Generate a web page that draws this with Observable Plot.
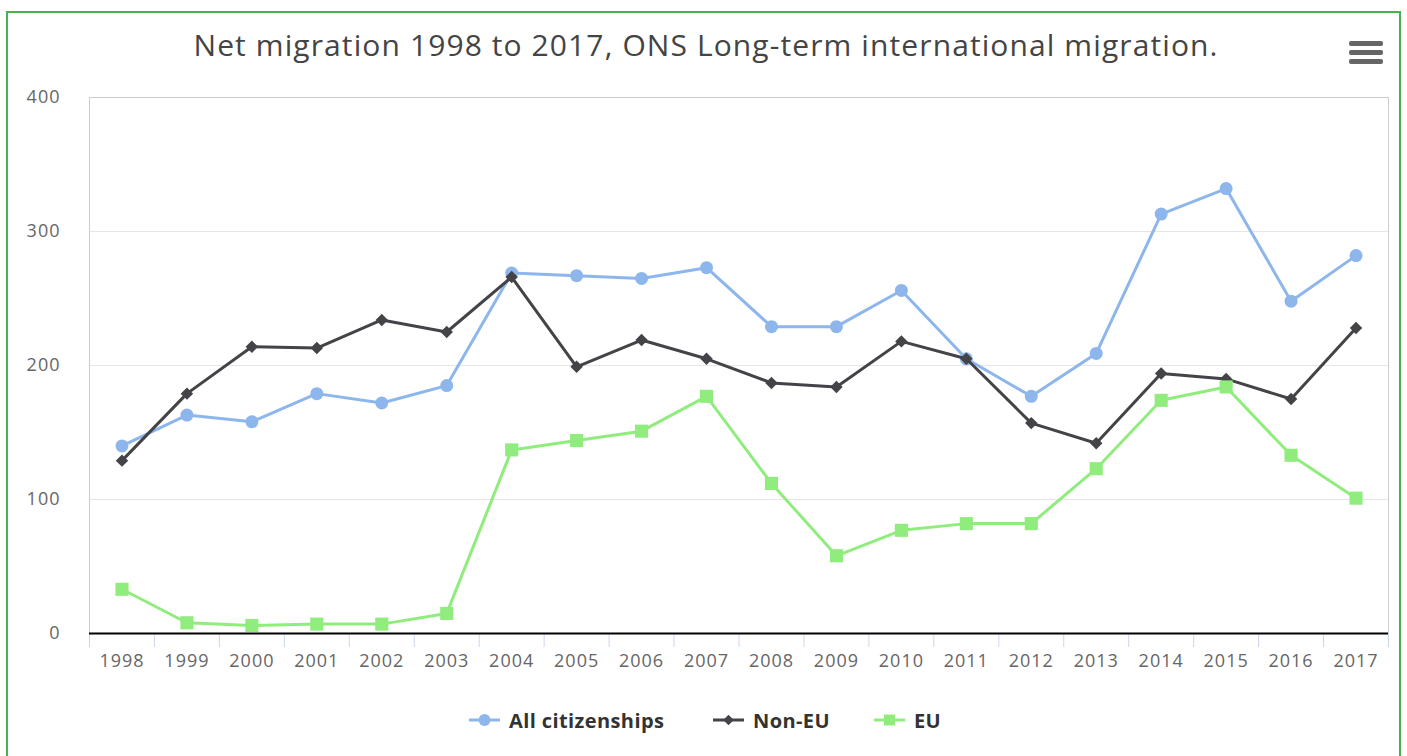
<!DOCTYPE html>
<html><head><meta charset="utf-8">
<script src="https://cdn.jsdelivr.net/npm/d3@7"></script>
<script src="https://cdn.jsdelivr.net/npm/@observablehq/plot@0.6"></script>
<style>
body{margin:0;background:#fff;font-family:"Open Sans",sans-serif;width:1407px;height:756px;overflow:hidden;position:relative;}
#frame{position:absolute;left:6px;top:11px;width:1395px;height:800px;border:2px solid #4caf50;box-sizing:border-box;}
#title{position:absolute;left:0;width:1412px;top:24px;text-align:center;font-size:30px;letter-spacing:1.1px;color:#444;white-space:nowrap;}
#menu{position:absolute;left:1349px;top:41px;}
#chart{position:absolute;left:0;top:0;}
#chart svg text{letter-spacing:1px;}
.leg{position:absolute;top:706px;height:28px;display:flex;align-items:center;font-size:20px;font-weight:bold;color:#333;letter-spacing:0.4px;}
.leg svg{margin-right:9px;}
</style></head>
<body>
<div id="frame"></div>
<div id="chart"></div>
<div id="title">Net migration 1998 to 2017, ONS Long-term international migration.</div>
<svg id="menu" width="36" height="26"><g fill="#666"><rect x="0" y="0" width="34" height="5" rx="2"/><rect x="0" y="9" width="34" height="5" rx="2"/><rect x="0" y="18" width="34" height="5" rx="2"/></g></svg>
<div id="legend"></div>
<script>
const years = [1998,1999,2000,2001,2002,2003,2004,2005,2006,2007,2008,2009,2010,2011,2012,2013,2014,2015,2016,2017];
const allCitizenships = [140,163,158,179,172,185,269,267,265,273,229,229,256,205,177,209,313,332,248,282];
const nonEU = [129,179,214,213,234,225,266,199,219,205,187,184,218,205,157,142,194,190,175,228];
const eu = [33,8,6,7,7,15,137,144,151,177,112,58,77,82,82,123,174,184,133,101];
const seriesNames = ["All citizenships","Non-EU","EU"];
const seriesColors = ["#8db6ec","#434348","#90ed7d"];
const seriesSymbols = ["circle","diamond2","square"];
const seriesR = [6.5,5.6,7.4];
const yTicks = [0,100,200,300,400];

const seriesValues = [allCitizenships, nonEU, eu];
const marks = [];
marks.push(Plot.gridY([100,200,300], {stroke:"#e6e6e6", strokeOpacity:1}));
marks.push(Plot.frame({stroke:"#cccccc", strokeOpacity:1}));
marks.push(Plot.axisY(yTicks, {tickSize:0, tickPadding:29, fontSize:18, fill:"#666", label:null}));
marks.push(Plot.axisX(d3.range(1997.5, 2018, 1), {tickSize:14, stroke:"#ccd6eb", tickFormat:()=>"", label:null}));
marks.push(Plot.axisX(years, {tickSize:0, tickPadding:21, tickFormat:d=>String(d), fontSize:18, fill:"#666", label:null}));
marks.push(Plot.ruleY([0], {stroke:"#000", strokeWidth:2}));
seriesNames.forEach((name, k) => {
  const rows = years.map((yr, i) => ({year: yr, value: seriesValues[k][i], series: name}));
  marks.push(Plot.line(rows, {x:"year", y:"value", stroke: seriesColors[k], strokeWidth:3}));
  marks.push(Plot.dot(rows, {x:"year", y:"value", fill: seriesColors[k], symbol: seriesSymbols[k], r: seriesR[k], stroke:"none"}));
});

const chart = Plot.plot({
  width:1407, height:700,
  marginLeft:89, marginRight:19, marginTop:97, marginBottom:67,
  x:{domain:[1997.5,2017.5], axis:null},
  y:{domain:[0,400], axis:null},
  style:{fontFamily:"'Open Sans', sans-serif", background:"transparent"},
  marks
});
document.getElementById("chart").appendChild(chart);

// legend
const legendLeft = [469, 713, 874];
const legend = document.getElementById("legend");
seriesNames.forEach((name, k) => {
  const item = document.createElement("div");
  item.className = "leg";
  item.style.left = legendLeft[k] + "px";
  const sym = d3.symbol(k===0?d3.symbolCircle:k===1?d3.symbolDiamond2:d3.symbolSquare, k===0?110:k===1?70:120)();
  item.innerHTML = `<svg width="31" height="20"><line x1="0" x2="31" y1="10" y2="10" stroke="${seriesColors[k]}" stroke-width="3"/><path transform="translate(15.5,10)" d="${sym}" fill="${seriesColors[k]}"/></svg><span>${name}</span>`;
  legend.appendChild(item);
});
</script>
</body></html>
